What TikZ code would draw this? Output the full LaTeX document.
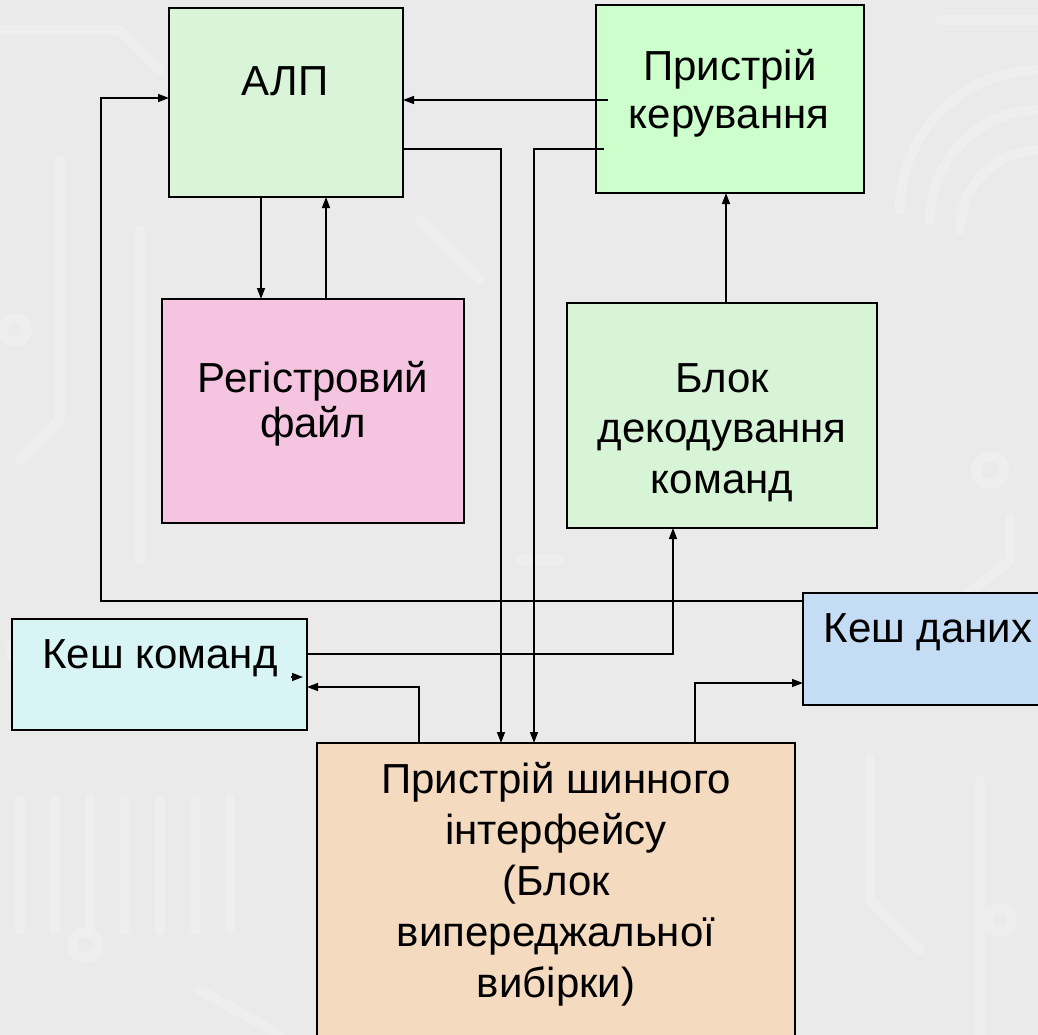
\documentclass[tikz,border=0pt]{standalone}
\usepackage{fontspec}
\setmainfont{Liberation Sans}
\usetikzlibrary{arrows.meta}

\definecolor{bgc}{HTML}{EAEAEA}
\definecolor{trace}{HTML}{F3F3F3}
\definecolor{alufill}{HTML}{D9F4D9}
\definecolor{cufill}{HTML}{CCFFCC}
\definecolor{regfill}{HTML}{F5C4E0}
\definecolor{decfill}{HTML}{D7F4D7}
\definecolor{kkfill}{HTML}{D9F4F4}
\definecolor{kdfill}{HTML}{C4DDF5}
\definecolor{busfill}{HTML}{F4DABF}

\tikzset{
  blk/.style={draw=black, line width=1.8pt, inner sep=0pt, outer sep=0pt, anchor=north west},
  txt/.style={anchor=base, inner sep=0pt, font=\fontsize{42}{50}\selectfont},
  arr/.style={draw=black, line width=1.4pt, -{Triangle[length=11pt,width=8pt]}},
  pcb/.style={draw=trace, line width=10pt, line cap=round, line join=round, opacity=0.45}
}

\begin{document}
\begin{tikzpicture}[x=1pt,y=-1pt]
  \useasboundingbox (0,0) rectangle (1038,1035);
  \clip (0,0) rectangle (1038,1035);
  \fill[bgc] (0,0) rectangle (1038,1035);

  % faint circuit-board traces in the background
  \draw[pcb] (0,30) -- (120,30) -- (160,70);
  \draw[pcb] (60,160) -- (60,420) -- (20,460);
  \draw[pcb] (140,230) -- (140,560);
  \draw[pcb] (25,650) circle (14);
  \draw[pcb] (15,330) circle (12);
  \draw[pcb] (20,800) -- (20,930);
  \draw[pcb] (55,800) -- (55,930);
  \draw[pcb] (90,800) -- (90,930);
  \draw[pcb] (125,800) -- (125,930);
  \draw[pcb] (160,800) -- (160,930);
  \draw[pcb] (195,800) -- (195,930);
  \draw[pcb] (230,800) -- (230,930);
  \draw[pcb] (85,945) circle (13);
  \draw[pcb] (200,990) -- (280,1035);
  \draw[pcb] (940,20) -- (1038,20);
  \draw[pcb] (900,210) arc (180:270:140);
  \draw[pcb] (930,220) arc (180:270:110);
  \draw[pcb] (960,230) arc (180:270:80);
  \draw[pcb] (990,470) circle (14);
  \draw[pcb] (1010,520) -- (1010,560) -- (960,600);
  \draw[pcb] (870,760) -- (870,900) -- (920,950);
  \draw[pcb] (980,780) -- (980,1035);
  \draw[pcb] (1000,920) circle (12);
  \draw[pcb] (420,220) -- (480,280);
  \draw[pcb] (520,560) -- (560,560);

  % blocks
  \node[blk, fill=alufill, minimum width=234pt, minimum height=189pt] (alu) at (169,8) {};
  \node[blk, fill=cufill,  minimum width=268pt, minimum height=188pt] (cu)  at (596,5) {};
  \node[blk, fill=regfill, minimum width=302pt, minimum height=224pt] (reg) at (162,299) {};
  \node[blk, fill=decfill, minimum width=310pt, minimum height=225pt] (dec) at (567,303) {};
  \node[blk, fill=kkfill,  minimum width=295pt, minimum height=111pt] (kk)  at (12,619) {};
  \node[blk, fill=kdfill,  minimum width=260pt, minimum height=112pt] (kd)  at (803,593) {};
  \node[blk, fill=busfill, minimum width=478pt, minimum height=320pt] (bus) at (317,743) {};

  % block labels
  \node[txt] (aluT) at (285,96) {АЛП};
  \node[txt] (cuT1) at (730,81) {Пристрій};
  \node[txt] (cuT2) at (729,129) {керування};
  \node[txt] (regT1) at (313,392) {Регістровий};
  \node[txt] (regT2) at (313,437) {файл};
  \node[txt] (decT1) at (722,392) {Блок};
  \node[txt] (decT2) at (722,442) {декодування};
  \node[txt] (decT3) at (722,493) {команд};
  \node[txt] (kkT) at (160,668) {Кеш команд};
  \node[txt] (kdT) at (928,642) {Кеш даних};
  \node[txt] (busT1) at (556,793) {Пристрій шинного};
  \node[txt] (busT2) at (556,844) {інтерфейсу};
  \node[txt] (busT3) at (556,895) {(Блок};
  \node[txt] (busT4) at (556,946) {випереджальної};
  \node[txt] (busT5) at (556,997) {вибірки)};

  % connectors
  \draw[arr] ([yshift=-8pt]kd.north west) -| ([xshift=-68pt,yshift=-90pt]alu.north west)
             -- ([yshift=-90pt]alu.north west);
  \draw[arr] ([xshift=12pt,yshift=-95pt]cu.north west) -- ([yshift=-92pt]alu.north east);
  \draw[arr] ([yshift=-141pt]alu.north east) -| ([xshift=184pt]bus.north west);
  \draw[arr] ([xshift=8pt,yshift=-144pt]cu.north west) -| ([xshift=217pt]bus.north west);
  \draw[arr] ([xshift=92pt]alu.south west) -- ([xshift=92pt]alu.south west |- reg.north);
  \draw[arr] ([xshift=164pt]reg.north west) -- ([xshift=164pt]reg.north west |- alu.south);
  \draw[arr] ([xshift=159pt]dec.north west) -- ([xshift=159pt]dec.north west |- cu.south);
  \draw[arr] ([yshift=-35pt]kk.north east) -| ([xshift=106pt]dec.south west);
  \draw[arr] ([xshift=102pt]bus.north west) |- ([yshift=-68pt]kk.north east);
  \draw[arr] ([xshift=-16pt,yshift=-58pt]kk.north east) -- ([xshift=-4pt,yshift=-58pt]kk.north east);
  \draw[arr] ([xshift=378pt]bus.north west) |- ([yshift=-90pt]kd.north west);
\end{tikzpicture}
\end{document}
